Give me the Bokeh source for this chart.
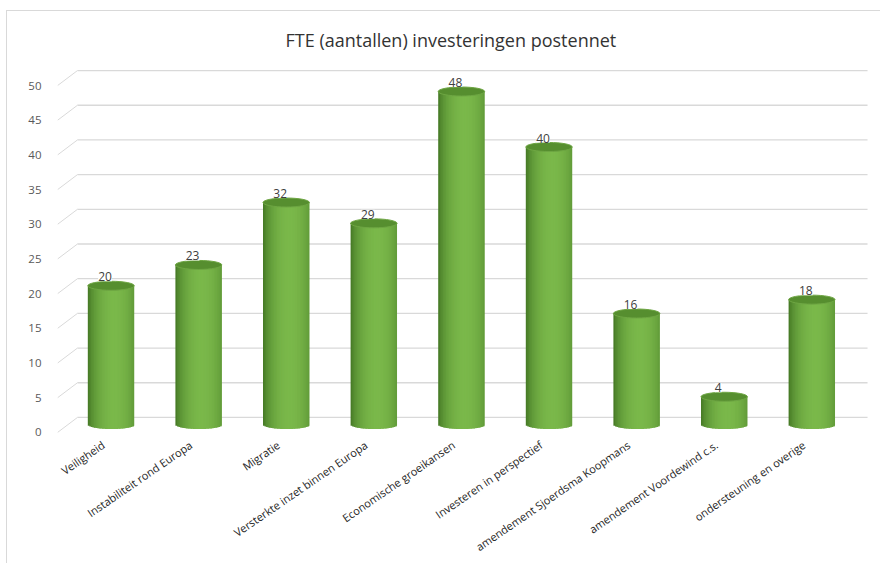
import math
import numpy as np
from bokeh.plotting import figure
from bokeh.core.properties import value
from bokeh.models import FixedTicker, ColumnDataSource, LabelSet, Range1d
from bokeh.embed import file_html
from bokeh.resources import INLINE

# ---- data ----
categories = [
    "Veiligheid",
    "Instabiliteit rond Europa",
    "Migratie",
    "Versterkte inzet binnen Europa",
    "Economische groeikansen",
    "Investeren in perspectief",
    "amendement Sjoerdsma Koopmans",
    "amendement Voordewind c.s.",
    "ondersteuning en overige",
]
fte = [20, 23, 32, 29, 48, 40, 16, 4, 18]
y_ticks = [0, 5, 10, 15, 20, 25, 30, 35, 40, 45, 50]
title_text = "FTE (aantallen) investeringen postennet"

# ---- geometry (styling of the pseudo-3D look) ----
shift = 0.09           # cylinders sit slightly right of their label anchor
X0, X1 = -0.611 + shift, 8.670 + shift
Y0, Y1 = -0.29, 53.62
bar_w = 0.53           # cylinder width (x units)
ell_h = 0.65           # half height of the cylinder ellipses (y units)
base = 1.15            # depth offset of cylinders (y units)
wall_dx, wall_dy = 0.228, 2.17   # back-wall offset
grid_end = 8.636 + shift
n_strip = 30

dark = np.array([0x40, 0x73, 0x22])
light = np.array([0x7a, 0xb8, 0x4a])

def shade(t):
    f = max(0.0, 1.0 - ((t - 0.15) / 1.15) ** 2)
    f = f ** 0.7
    c = dark + (light - dark) * f
    return "#%02x%02x%02x" % tuple(int(round(v)) for v in c)

p = figure(
    width=874, height=553,
    x_range=Range1d(X0, X1), y_range=Range1d(Y0, Y1),
    output_backend="svg", toolbar_location=None,
    min_border_left=50, min_border_right=11,
    min_border_top=49, min_border_bottom=130,
    title=title_text,
)
p.styles = {"margin-left": "6px", "margin-top": "10px",
            "border-top": "1px solid #d9d9d9", "border-left": "1px solid #d9d9d9"}
p.outline_line_color = None
p.xgrid.visible = False
p.ygrid.visible = False

p.title.align = "left"
p.title.offset = 228
p.title.text_font = "Open Sans"
p.title.text_font_size = "18px"
p.title.text_font_style = "normal"
p.title.text_color = "#333333"
p.title.standoff = 18

# back-wall gridlines with slanted floor part
gx0, gy0, gx1, gy1 = [], [], [], []
hx0, hx1, hy = [], [], []
for v in y_ticks:
    gx0.append(X0); gy0.append(v); gx1.append(X0 + wall_dx); gy1.append(v + wall_dy)
    hx0.append(X0 + wall_dx); hx1.append(grid_end); hy.append(v + wall_dy)
p.segment(x0=gx0, y0=gy0, x1=gx1, y1=gy1, line_color="#d9d9d9", line_width=1)
p.segment(x0=hx0, y0=hy, x1=hx1, y1=hy, line_color="#d9d9d9", line_width=1.3)

# cylinders as shaded strips (each strip overlaps the next to hide seams)
L, R, B, T, C = [], [], [], [], []
dw = bar_w / n_strip
for i, v in enumerate(fte):
    cx = i + shift
    for k in range(n_strip):
        left = cx - bar_w / 2 + k * dw
        right = left + (dw * 1.8 if k < n_strip - 1 else dw)
        t = ((k + 0.5) / n_strip) * 2 - 1
        L.append(left); R.append(right)
        B.append(base - ell_h * math.sqrt(max(0.0, 1 - t * t)))
        T.append(base + v)
        C.append(shade(t))
p.quad(left=L, right=R, bottom=B, top=T, fill_color=C, line_color=None)

xs = list(range(len(categories)))
bar_x = [i + shift for i in xs]
tops = [base + v for v in fte]
p.ellipse(x=bar_x, y=tops, width=bar_w, height=2 * ell_h,
          fill_color="#568e2f", line_color="#6ea643", line_width=1)

src = ColumnDataSource(dict(x=bar_x, y=tops, label=[str(v) for v in fte]))
labels = LabelSet(x="x", y="y", text="label", source=src,
                  x_offset=-6, y_offset=9,
                  text_align="center", text_baseline="middle",
                  text_font=value("Open Sans"), text_font_size=value("12px"),
                  text_color=value("#404040"),
                  background_fill_color="white")
p.add_layout(labels)

# axes
p.yaxis.ticker = FixedTicker(ticks=y_ticks)
p.yaxis.axis_line_color = None
p.yaxis.major_tick_line_color = None
p.yaxis.minor_tick_line_color = None
p.yaxis.major_label_standoff = 10
p.yaxis.major_label_text_font = "Open Sans"
p.yaxis.major_label_text_font_size = "11.5px"
p.yaxis.major_label_text_color = "#595959"

p.xaxis.ticker = FixedTicker(ticks=xs)
p.xaxis.major_label_overrides = {i: c for i, c in enumerate(categories)}
p.xaxis.major_label_orientation = math.radians(34.5)
p.xaxis.axis_line_color = None
p.xaxis.major_tick_line_color = None
p.xaxis.minor_tick_line_color = None
p.xaxis.major_label_standoff = 3
p.xaxis.major_label_text_font = "Open Sans"
p.xaxis.major_label_text_font_size = "11px"
p.xaxis.major_label_text_color = "#262626"

open("out.html", "w").write(file_html(p, INLINE))
